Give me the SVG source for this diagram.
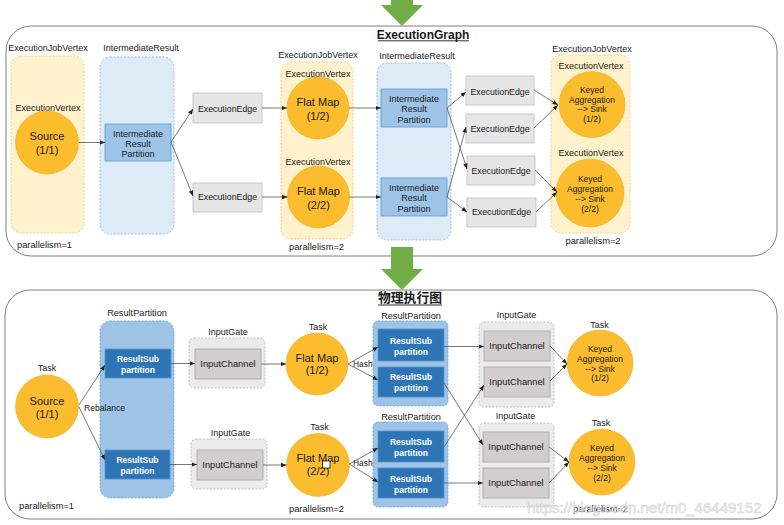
<svg xmlns="http://www.w3.org/2000/svg" width="784" height="525" viewBox="0 0 784 525">
<style>
text{font-family:"Liberation Sans",Arial,sans-serif;fill:#1a1a1a}
.l{font-size:9px;text-anchor:middle}
.t{font-size:11px;text-anchor:middle}
.k{font-size:8.5px;text-anchor:middle}
.e{font-size:8.8px;text-anchor:middle}
.p{font-size:9.3px;text-anchor:middle}
.w{font-size:8.5px;font-weight:bold;text-anchor:middle;fill:#fff}
.title{font-size:12px;font-weight:bold;text-anchor:middle}
.panel{fill:#fff;stroke:#7f7f7f;stroke-width:1}
.circ{fill:#FBBD2D;stroke:#EDAA1F;stroke-width:0.6}
.yt{fill:#FFF2CC;stroke:#F3C66E;stroke-width:0.8;stroke-dasharray:2 1.5}
.bt{fill:#DDEBF7;stroke:#8EB4E0;stroke-width:0.8;stroke-dasharray:2 1.5}
.part{fill:#9DC3E6;stroke:#5B9BD5;stroke-width:0.8}
.edge{fill:#E7E6E6;stroke:#BDBDBD;stroke-width:0.8}
.rp{fill:#9DC3E6;stroke:#6FA2D6;stroke-width:0.8;stroke-dasharray:2 1.5}
.sub{fill:#2E75B6;stroke:#5A95CC;stroke-width:0.8}
.ig{fill:#EBEBEB;stroke:#B5B5B5;stroke-width:0.8;stroke-dasharray:2 1.5}
.ic{fill:#D0CECE;stroke:#A5A5A5;stroke-width:0.8}
.c{stroke:#555;stroke-width:0.8;fill:none;marker-end:url(#ah)}
.green{fill:#70AD47}
</style>
<defs>
<marker id="ah" viewBox="0 0 10 10" refX="10" refY="5" markerWidth="5.5" markerHeight="5.5" orient="auto" markerUnits="userSpaceOnUse"><path d="M0,1 L10,5 L0,9 z" fill="#222"/></marker>
</defs>
<rect width="784" height="525" fill="#fff"/>

<!-- panels -->
<rect class="panel" x="6" y="26" width="771" height="230" rx="25"/>
<rect class="panel" x="5" y="290" width="772" height="229" rx="25"/>
<polygon class="green" points="391,0 413,0 413,5 423,5 402,26 381,5 391,5"/>
<polygon class="green" points="391,247 413,247 413,269 423,269 402,290 381,269 391,269"/>
<text class="title" x="423" y="38.5">ExecutionGraph</text>
<line x1="378" y1="40.8" x2="469" y2="40.8" stroke="#1a1a1a" stroke-width="0.9"/>
<text class="title" x="410" y="302" style="font-size:12.8px;font-family:'Liberation Sans','Noto Sans CJK SC',sans-serif">物理执行图</text>
<line x1="378" y1="305" x2="442" y2="305" stroke="#1a1a1a" stroke-width="0.9"/>

<!-- ===== Top: ExecutionGraph ===== -->
<g id="ejv1">
<text class="l" x="48" y="51">ExecutionJobVertex</text>
<rect class="yt" x="11" y="56" width="73" height="177" rx="10"/>
<text class="l" x="48" y="111">ExecutionVertex</text>
<circle class="circ" cx="47" cy="142.5" r="31.5"/>
<text class="t" x="47" y="140">Source</text>
<text class="t" x="47" y="154">(1/1)</text>
<text class="p" x="44.5" y="248">parallelism=1</text>
</g>
<g id="ir1">
<text class="l" x="141" y="51">IntermediateResult</text>
<rect class="bt" x="100" y="57" width="74" height="177" rx="10"/>
<rect class="part" x="105" y="124" width="66" height="37"/>
<text class="k" x="138" y="136.5" style="font-size:9px">Intermediate</text>
<text class="k" x="138" y="146.5" style="font-size:9px">Result</text>
<text class="k" x="138" y="157" style="font-size:9px">Partition</text>
</g>
<g id="ee1">
<rect class="edge" x="193" y="93" width="69" height="30"/>
<text class="e" x="227.5" y="112">ExecutionEdge</text>
</g>
<g id="ee2">
<rect class="edge" x="193" y="183" width="69" height="29"/>
<text class="e" x="227.5" y="200">ExecutionEdge</text>
</g>
<g id="ejv2">
<rect class="yt" x="281" y="62" width="72" height="177" rx="10"/>
<text class="l" x="318" y="58">ExecutionJobVertex</text>
<text class="l" x="318" y="77">ExecutionVertex</text>
<circle class="circ" cx="318" cy="108" r="31"/>
<text class="t" x="318" y="106">Flat Map</text>
<text class="t" x="318" y="120">(1/2)</text>
<text class="l" x="318" y="165">ExecutionVertex</text>
<circle class="circ" cx="318.5" cy="197" r="31"/>
<text class="t" x="318.5" y="195">Flat Map</text>
<text class="t" x="318.5" y="209">(2/2)</text>
<text class="p" x="316.5" y="250">parallelism=2</text>
</g>
<g id="ir2">
<text class="l" x="417" y="59">IntermediateResult</text>
<rect class="bt" x="377" y="63" width="74" height="177" rx="10"/>
<rect class="part" x="381" y="89" width="66" height="38"/>
<text class="k" x="414" y="101.5" style="font-size:9px">Intermediate</text>
<text class="k" x="414" y="112" style="font-size:9px">Result</text>
<text class="k" x="414" y="123" style="font-size:9px">Partition</text>
<rect class="part" x="381" y="178" width="66" height="38"/>
<text class="k" x="414" y="190.5" style="font-size:9px">Intermediate</text>
<text class="k" x="414" y="200.5" style="font-size:9px">Result</text>
<text class="k" x="414" y="211.5" style="font-size:9px">Partition</text>
</g>
<g id="ee3"><rect class="edge" x="466" y="76" width="68" height="29"/><text class="e" x="500" y="95">ExecutionEdge</text></g>
<g id="ee4"><rect class="edge" x="466" y="114" width="68" height="29"/><text class="e" x="500" y="132">ExecutionEdge</text></g>
<g id="ee5"><rect class="edge" x="467" y="156" width="68" height="29"/><text class="e" x="501" y="174">ExecutionEdge</text></g>
<g id="ee6"><rect class="edge" x="467" y="198" width="69" height="29"/><text class="e" x="501.5" y="215">ExecutionEdge</text></g>
<g id="ejv3">
<text class="l" x="592" y="52">ExecutionJobVertex</text>
<rect class="yt" x="551" y="55" width="79" height="178" rx="10"/>
<text class="l" x="591" y="68.5">ExecutionVertex</text>
<circle class="circ" cx="592" cy="104.5" r="33"/>
<text class="k" x="592" y="93">Keyed</text>
<text class="k" x="592" y="102.5">Aggregation</text>
<text class="k" x="592" y="112">--&gt; Sink</text>
<text class="k" x="592" y="121.5">(1/2)</text>
<text class="l" x="591" y="156">ExecutionVertex</text>
<circle class="circ" cx="590" cy="193" r="34"/>
<text class="k" x="590" y="182">Keyed</text>
<text class="k" x="590" y="192">Aggregation</text>
<text class="k" x="590" y="202">--&gt; Sink</text>
<text class="k" x="590" y="212">(2/2)</text>
<text class="p" x="593" y="244">parallelism=2</text>
</g>

<!-- ===== Bottom: physical graph ===== -->
<g id="task-src">
<text class="l" x="47" y="371">Task</text>
<circle class="circ" cx="47" cy="406.5" r="31.5"/>
<text class="t" x="47" y="404.5">Source</text>
<text class="t" x="47" y="418">(1/1)</text>
<text class="p" x="46.5" y="509">parallelism=1</text>
</g>
<g id="rp-src">
<text class="p" x="137" y="316" style="font-size:9.2px">ResultPartition</text>
<rect class="rp" x="100" y="321" width="74" height="177" rx="10"/>
<rect class="sub" x="105" y="349" width="66" height="29"/>
<text class="w" x="138" y="362">ResultSub</text>
<text class="w" x="138" y="373">partition</text>
<rect class="sub" x="105" y="450" width="65" height="29"/>
<text class="w" x="137.5" y="462.5">ResultSub</text>
<text class="w" x="137.5" y="474">partition</text>
</g>
<g id="ig-fm1">
<text class="l" x="228" y="335">InputGate</text>
<rect class="ig" x="189" y="338" width="76" height="50" rx="5"/>
<rect class="ic" x="195" y="349" width="66" height="30"/>
<text class="p" x="228" y="367">InputChannel</text>
</g>
<g id="ig-fm2">
<text class="l" x="230.5" y="436">InputGate</text>
<rect class="ig" x="191" y="439" width="76" height="50" rx="5"/>
<rect class="ic" x="197" y="450" width="66" height="30"/>
<text class="p" x="230" y="468">InputChannel</text>
</g>
<g id="task-fm1">
<text class="l" x="318" y="330">Task</text>
<circle class="circ" cx="317" cy="364" r="31"/>
<text class="t" x="317" y="361.5">Flat Map</text>
<text class="t" x="317" y="374">(1/2)</text>
</g>
<g id="task-fm2">
<text class="l" x="319.5" y="430">Task</text>
<circle class="circ" cx="318" cy="465" r="31.5"/>
<text class="t" x="318" y="462">Flat Map</text>
<text class="t" x="318" y="475">(2/2)</text>
<rect x="322.5" y="461" width="7.5" height="7" fill="#fff" stroke="#111" stroke-width="0.8"/>
<text class="p" x="316.5" y="512">parallelism=2</text>
</g>
<g id="rp-fm1">
<text class="p" x="411" y="318.5" style="font-size:9.2px">ResultPartition</text>
<rect class="rp" x="373" y="321" width="75" height="85" rx="5"/>
<rect class="sub" x="378" y="329" width="66" height="32"/>
<text class="w" x="411" y="344">ResultSub</text>
<text class="w" x="411" y="355">partition</text>
<rect class="sub" x="378" y="367" width="66" height="30"/>
<text class="w" x="411" y="380">ResultSub</text>
<text class="w" x="411" y="391">partition</text>
</g>
<g id="rp-fm2">
<text class="p" x="411" y="420" style="font-size:9.2px">ResultPartition</text>
<rect class="rp" x="373" y="422" width="75" height="85" rx="5"/>
<rect class="sub" x="378" y="431" width="66" height="31"/>
<text class="w" x="411" y="445">ResultSub</text>
<text class="w" x="411" y="456">partition</text>
<rect class="sub" x="378" y="468" width="66" height="30"/>
<text class="w" x="411" y="481.5">ResultSub</text>
<text class="w" x="411" y="492.5">partition</text>
</g>
<g id="ig-k1">
<text class="l" x="516.5" y="318">InputGate</text>
<rect class="ig" x="479" y="322" width="75" height="85" rx="5"/>
<rect class="ic" x="484" y="331" width="66" height="30"/>
<text class="p" x="517" y="349">InputChannel</text>
<rect class="ic" x="484" y="367" width="66" height="30"/>
<text class="p" x="517" y="385">InputChannel</text>
</g>
<g id="ig-k2">
<text class="l" x="515.5" y="419">InputGate</text>
<rect class="ig" x="479" y="423" width="75" height="84" rx="5"/>
<rect class="ic" x="483" y="432" width="66" height="30"/>
<text class="p" x="516" y="450">InputChannel</text>
<rect class="ic" x="483" y="468" width="66" height="30"/>
<text class="p" x="516" y="486">InputChannel</text>
</g>
<g id="task-k1">
<text class="l" x="599.5" y="328">Task</text>
<circle class="circ" cx="600" cy="363" r="33"/>
<text class="k" x="600" y="352">Keyed</text>
<text class="k" x="600" y="362">Aggregation</text>
<text class="k" x="600" y="371.5">--&gt; Sink</text>
<text class="k" x="600" y="381">(1/2)</text>
</g>
<g id="task-k2">
<text class="l" x="601" y="426">Task</text>
<circle class="circ" cx="602" cy="462" r="33"/>
<text class="k" x="602" y="451">Keyed</text>
<text class="k" x="602" y="461">Aggregation</text>
<text class="k" x="602" y="471">--&gt; Sink</text>
<text class="k" x="602" y="481">(2/2)</text>
<text class="p" x="600.5" y="512">parallelism=2</text>
</g>

<!-- connectors -->
<g id="connectors">
<path class="c" d="M79,142.5 L105,142.5"/>
<path class="c" d="M171,142 L193,109"/>
<path class="c" d="M171,142 L193,196"/>
<path class="c" d="M262,108 L287,108"/>
<path class="c" d="M262,197 L287.5,197"/>
<path class="c" d="M349,108 L381,108"/>
<path class="c" d="M349.5,197 L381,197"/>
<path class="c" d="M447,108 L466,92"/>
<path class="c" d="M447,108 L467,169"/>
<path class="c" d="M447,197 L466,127"/>
<path class="c" d="M447,197 L467,212"/>
<path class="c" d="M534,90 L558,105"/>
<path class="c" d="M534,128 L558,105"/>
<path class="c" d="M535,170 L557,192"/>
<path class="c" d="M536,212 L557,192"/>

<path class="c" d="M79,405 L105,365"/>
<path class="c" d="M79,407 L105,460"/>
<path class="c" d="M171,363.5 L195,363.5"/>
<path class="c" d="M170,464.5 L197,464.5"/>
<path class="c" d="M261,364 L286,364"/>
<path class="c" d="M263,465 L286.5,465"/>
<path class="c" d="M348,364 L378,347"/>
<path class="c" d="M348,364 L378,380"/>
<path class="c" d="M349.5,464 L378,448"/>
<path class="c" d="M349.5,464 L378,482"/>
<path class="c" d="M444,346.5 L484,346.5"/>
<path class="c" d="M444,383 L483,445"/>
<path class="c" d="M444,447 L484,385"/>
<path class="c" d="M444,483 L483,483"/>
<path class="c" d="M550,346 L567,364"/>
<path class="c" d="M550,381 L567,364"/>
<path class="c" d="M549,447 L569,462"/>
<path class="c" d="M549,483 L569,462"/>
</g>
<text x="84" y="411" style="font-size:8.6px">Rebalance</text>
<text x="353" y="367" style="font-size:8.4px">Hash</text>
<text x="353" y="466" style="font-size:8.4px">Hash</text>

<text x="527" y="513" style="font-size:15px;fill:#f2f2f2;stroke:#c8c8c8;stroke-width:0.5;opacity:0.85">https://blog.csdn.net/m0_46449152</text>
</svg>
